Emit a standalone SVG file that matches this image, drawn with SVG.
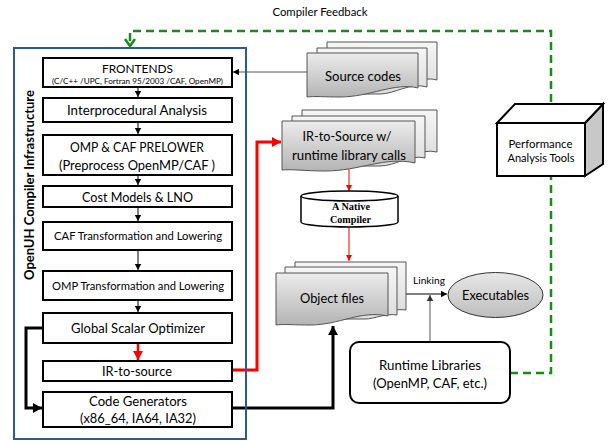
<svg xmlns="http://www.w3.org/2000/svg" width="609" height="441" viewBox="0 0 609 441">
<defs>
<style>
.box{fill:#fff;stroke:#000;stroke-width:2}
.t{font-family:Lato,"Open Sans",sans-serif;fill:#000;text-anchor:middle}
.doc{stroke:#555;stroke-width:1}
.back{fill:url(#gl)}
.front{fill:url(#gd)}
.thin{stroke:#000;stroke-width:1;fill:none}
.thick{stroke:#000;stroke-width:3;fill:none}
</style>
<linearGradient id="gd" x1="0" y1="0" x2="0" y2="1"><stop offset="0" stop-color="#ececec"/><stop offset="1" stop-color="#b4b4b4"/></linearGradient>
<linearGradient id="gl" x1="0" y1="0" x2="0" y2="1"><stop offset="0" stop-color="#f6f6f6"/><stop offset="1" stop-color="#dcdcdc"/></linearGradient>
<linearGradient id="ge" x1="0" y1="0" x2="0" y2="1"><stop offset="0" stop-color="#e8e8e8"/><stop offset="1" stop-color="#bdbdbd"/></linearGradient>
<marker id="ab" markerWidth="8" markerHeight="8" refX="6" refY="4" orient="auto" markerUnits="userSpaceOnUse"><path d="M0,0.8 L6,4 L0,7.2 Z" fill="#000"/></marker>
<marker id="ag" markerWidth="8" markerHeight="8" refX="6" refY="4" orient="auto" markerUnits="userSpaceOnUse"><path d="M0,0.8 L6,4 L0,7.2 Z" fill="#333"/></marker>
<marker id="ar" markerWidth="8" markerHeight="8" refX="6" refY="4" orient="auto" markerUnits="userSpaceOnUse"><path d="M0,1 L6,4 L0,7 Z" fill="#f00"/></marker>
<marker id="arb" markerWidth="12" markerHeight="12" refX="9" refY="6" orient="auto" markerUnits="userSpaceOnUse"><path d="M0,1 L9,6 L0,11 Z" fill="#f00"/></marker>
<marker id="abb" markerWidth="12" markerHeight="12" refX="9" refY="6" orient="auto" markerUnits="userSpaceOnUse"><path d="M0,1 L9,6 L0,11 Z" fill="#000"/></marker>
<marker id="agr" markerWidth="12" markerHeight="12" refX="8" refY="6" orient="auto" markerUnits="userSpaceOnUse"><path d="M1,1 L8,6 L1,11" fill="none" stroke="#1a8a1a" stroke-width="2.5"/></marker>
</defs>
<rect width="609" height="441" fill="#fff"/>

<g id="connectors">
<path d="M510,373 H551 V31 H130 V46" fill="none" stroke="#1a8a1a" stroke-width="2.5" stroke-dasharray="8,5" marker-end="url(#agr)"/>
<line x1="307" y1="72" x2="233" y2="72" stroke="#555" stroke-width="1" marker-end="url(#ab)"/>
<line x1="138" y1="87" x2="138" y2="97" class="thin" marker-end="url(#ab)"/>
<line x1="138" y1="122" x2="138" y2="134" class="thin" marker-end="url(#ab)"/>
<line x1="138" y1="175" x2="138" y2="185" class="thin" marker-end="url(#ab)"/>
<line x1="138" y1="207" x2="138" y2="221" class="thin" marker-end="url(#ab)"/>
<line x1="138" y1="250" x2="138" y2="270" class="thin" marker-end="url(#ab)"/>
<line x1="138" y1="300" x2="138" y2="312" class="thin" marker-end="url(#ab)"/>
<line x1="138" y1="343" x2="138" y2="360" stroke="#f00" stroke-width="2.5" marker-end="url(#arb)"/>
<path d="M43,328 H26 V408 H42" class="thick" marker-end="url(#abb)"/>
<path d="M232,408 H333 V326" class="thick" marker-end="url(#abb)"/>
<path d="M232,370 H257 V142 H281" stroke="#f00" stroke-width="3" fill="none" marker-end="url(#arb)"/>
<line x1="349" y1="169" x2="349" y2="191" stroke="#f00" stroke-width="1" marker-end="url(#ar)"/>
<line x1="349" y1="227" x2="349" y2="261" stroke="#f00" stroke-width="1" marker-end="url(#ar)"/>
<line x1="406" y1="294" x2="447" y2="294" class="thin" marker-end="url(#ab)"/>
<line x1="430" y1="342" x2="430" y2="295" stroke="#555" stroke-width="1" marker-end="url(#ag)"/>
</g>

<text class="t" x="320" y="16" font-size="11" textLength="95" lengthAdjust="spacingAndGlyphs">Compiler Feedback</text>

<g id="infrastructure">
<rect x="14" y="48" width="232" height="391" fill="none" stroke="#2b5b8f" stroke-width="2"/>
<text class="t" font-size="12.5" font-weight="bold" transform="translate(34,185) rotate(-90)" textLength="190" lengthAdjust="spacingAndGlyphs">OpenUH Compiler Infrastructure</text>
</g>

<g id="frontends"><rect class="box" x="43" y="58" width="189" height="29"/>
<text class="t" x="137.5" y="72.5" font-size="12" textLength="71" lengthAdjust="spacingAndGlyphs">FRONTENDS</text>
<text class="t" x="137.5" y="84" font-size="7.5" textLength="171" lengthAdjust="spacingAndGlyphs">(C/C++ /UPC, Fortran 95/2003 /CAF, OpenMP)</text></g>
<g id="ipa"><rect class="box" x="43" y="98" width="189" height="24"/>
<text class="t" x="137" y="115" font-size="13" textLength="140" lengthAdjust="spacingAndGlyphs">Interprocedural Analysis</text></g>
<g id="prelower"><rect class="box" x="43" y="135" width="189" height="40"/>
<text class="t" x="137" y="152" font-size="13.5" textLength="134" lengthAdjust="spacingAndGlyphs">OMP &amp; CAF PRELOWER</text>
<text class="t" x="137" y="170" font-size="13.5" textLength="156" lengthAdjust="spacingAndGlyphs">(Preprocess OpenMP/CAF )</text></g>
<g id="lno"><rect class="box" x="43" y="186" width="189" height="21"/>
<text class="t" x="137.5" y="201.5" font-size="13.5" textLength="111" lengthAdjust="spacingAndGlyphs">Cost Models &amp; LNO</text></g>
<g id="caf"><rect class="box" x="43" y="222" width="189" height="28"/>
<text class="t" x="138" y="240" font-size="11.5" textLength="168" lengthAdjust="spacingAndGlyphs">CAF Transformation and Lowering</text></g>
<g id="omp"><rect class="box" x="43" y="271" width="189" height="29"/>
<text class="t" x="138" y="289.5" font-size="11.5" textLength="172" lengthAdjust="spacingAndGlyphs">OMP Transformation and Lowering</text></g>
<g id="gso"><rect class="box" x="43" y="313" width="189" height="30"/>
<text class="t" x="138" y="332.5" font-size="13" textLength="134" lengthAdjust="spacingAndGlyphs">Global Scalar Optimizer</text></g>
<g id="irtosource"><rect class="box" x="43" y="361" width="189" height="20"/>
<text class="t" x="137" y="375.5" font-size="13" textLength="70" lengthAdjust="spacingAndGlyphs">IR-to-source</text></g>
<g id="codegen"><rect class="box" x="43" y="392" width="189" height="35"/>
<text class="t" x="138" y="405.5" font-size="13" textLength="98" lengthAdjust="spacingAndGlyphs">Code Generators</text>
<text class="t" x="138" y="423" font-size="13" textLength="116" lengthAdjust="spacingAndGlyphs">(x86_64, IA64, IA32)</text></g>

<g id="sourcecodes">
<path class="doc back" d="M327,42 H437 V80 C420,75 405,90 390,90 H327 Z"/>
<path class="doc back" d="M317,48 H427 V87 C410,82 395,94 380,94 H317 Z"/>
<path class="doc front" d="M307,53 H418 V88 C395,82 370,97 340,97 C325,97 315,96 307,97 Z"/>
<text class="t" x="363" y="81" font-size="13.5" textLength="76" lengthAdjust="spacingAndGlyphs">Source codes</text>
</g>

<g id="irsource">
<path class="doc back" d="M302,110 H437 V152 C420,148 405,160 390,160 H302 Z"/>
<path class="doc back" d="M292,116 H425 V158 C410,154 395,166 380,166 H292 Z"/>
<path class="doc front" d="M282,121 H415 V163 C385,156 360,171 325,171 C305,171 292,169 282,170 Z"/>
<text class="t" x="347" y="141" font-size="13" textLength="89" lengthAdjust="spacingAndGlyphs">IR-to-Source w/</text>
<text class="t" x="349" y="160" font-size="13" textLength="114" lengthAdjust="spacingAndGlyphs">runtime library calls</text>
</g>

<g id="native">
<path d="M301,196 V222 A48.5,5 0 0 0 398,222 V196" fill="#fff" stroke="#000" stroke-width="1.5"/>
<ellipse cx="349.5" cy="196" rx="48.5" ry="5" fill="#fff" stroke="#000" stroke-width="1.5"/>
<text x="351" y="210" font-family="'Liberation Serif',serif" font-weight="bold" font-size="9.5" text-anchor="middle" textLength="38" lengthAdjust="spacingAndGlyphs">A Native</text>
<text x="350.5" y="222.5" font-family="'Liberation Serif',serif" font-weight="bold" font-size="9.5" text-anchor="middle" textLength="41" lengthAdjust="spacingAndGlyphs">Compiler</text>
</g>

<g id="objectfiles">
<path class="doc back" d="M295,262 H406 V310 C395,308 385,314 375,314 H295 Z"/>
<path class="doc back" d="M285,267 H397 V315 C385,313 375,319 365,319 H285 Z"/>
<path class="doc front" d="M276,273 H388 V316 C360,310 340,325 310,325 C295,325 283,324 276,325 Z"/>
<text class="t" x="332" y="303" font-size="13" textLength="64" lengthAdjust="spacingAndGlyphs">Object files</text>
</g>

<text class="t" x="429" y="284" font-size="9.5" textLength="32" lengthAdjust="spacingAndGlyphs">Linking</text>

<g id="executables">
<ellipse cx="495.5" cy="295" rx="47.5" ry="22.5" fill="url(#ge)" stroke="#333" stroke-width="1"/>
<text class="t" x="495.5" y="300" font-size="14" textLength="67" lengthAdjust="spacingAndGlyphs">Executables</text>
</g>

<g id="runtime">
<rect x="350" y="342" width="160" height="61" rx="9" fill="#fff" stroke="#000" stroke-width="2"/>
<text class="t" x="430" y="369.5" font-size="13" textLength="102" lengthAdjust="spacingAndGlyphs">Runtime Libraries</text>
<text class="t" x="430" y="387.5" font-size="13" textLength="114" lengthAdjust="spacingAndGlyphs">(OpenMP, CAF, etc.)</text>
</g>

<g id="perftools">
<path d="M585,123 L603,104 V164 L585,176 Z" fill="#c8c8c8" stroke="#000" stroke-width="2"/>
<path d="M497,123 L515,104 H603 L585,123 Z" fill="#fff" stroke="#000" stroke-width="2"/>
<rect x="497" y="123" width="88" height="53" fill="#fff" stroke="#000" stroke-width="2"/>
<text class="t" x="540.5" y="147.5" font-size="11.5" textLength="64" lengthAdjust="spacingAndGlyphs">Performance</text>
<text class="t" x="541" y="161.5" font-size="11.5" textLength="67" lengthAdjust="spacingAndGlyphs">Analysis Tools</text>
</g>
</svg>
